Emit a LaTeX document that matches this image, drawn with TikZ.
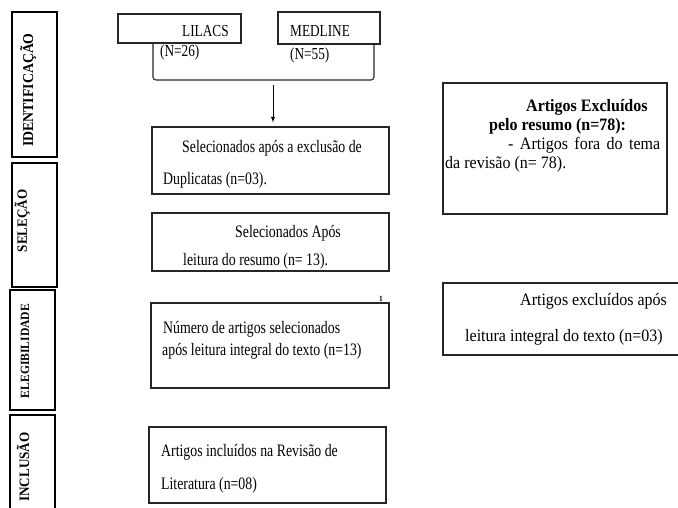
\documentclass[tikz,border=0pt]{standalone}
\usepackage{fontspec}
\setmainfont{Liberation Serif}[FakeStretch=0.92]
\newfontfamily\narrowfont{Liberation Serif}[FakeStretch=0.79]

\tikzset{
  box/.style={draw=black!85, line width=1.1pt, inner sep=0pt},
  phase/.style={draw=black, line width=2.8pt, inner sep=0pt},
  txt/.style={inner sep=0pt, anchor=base west, align=left},
  lbl/.style={inner sep=0pt, anchor=base, rotate=90},
}

\begin{document}
\begin{tikzpicture}[x=1pt, y=-1pt,
>=latex,
font=\narrowfont\fontsize{17.5}{32}\selectfont,
]
\useasboundingbox (0,0) rectangle (678,507);
\clip (0,0) rectangle (678,507);

% PHASES
\node[phase, minimum width=45pt, minimum height=145pt] (ident) at (34.5,84.5) {};
\node[phase, minimum width=45pt, minimum height=124pt] (selec) at (34.5,225) {};
\node[phase, minimum width=45pt, minimum height=120pt] (elegib) at (32.5,350) {};
\node[phase, minimum width=45pt, minimum height=115pt] (inclus) at (32.5,472.5) {};
\node[lbl, font=\rmfamily\bfseries\fontsize{15}{16}\selectfont] (identT) at (33,90) {IDENTIFICAÇÃO};
\node[lbl, font=\rmfamily\bfseries\fontsize{14.2}{16}\selectfont] (selecT) at (27,221) {SELEÇÃO};
\node[lbl, font=\rmfamily\bfseries\fontsize{12.6}{16}\selectfont] (elegibT) at (29,351) {ELEGIBILIDADE};
\node[lbl, font=\rmfamily\bfseries\fontsize{14.3}{16}\selectfont] (inclusT) at (29,467) {INCLUSÃO};

% DATABASES
\node[box, minimum width=123pt, minimum height=29pt] (lilacs) at (179.5,28.5) {};
\node[box, minimum width=102pt, minimum height=32pt] (medline) at (329,28) {};
\node[txt, font=\narrowfont\fontsize{16.8}{20}\selectfont] (lilacsT) at (182,36) {LILACS};
\node[txt, font=\narrowfont\fontsize{16.8}{20}\selectfont] (medlineT) at (290,36) {MEDLINE};
\node[txt, font=\narrowfont\fontsize{16.8}{20}\selectfont] (lilacsN) at (160,56) {(N=26)};
\node[txt, font=\narrowfont\fontsize{16.8}{20}\selectfont] (medlineN) at (290,59) {(N=55)};

% BRACKET
\coordinate (brk) at (273,80);
\coordinate (arrS) at (273,85);
\draw[black!85, line width=1.1pt, rounded corners=3pt] (153,43) |- (brk) -| (374,44);

% SELECTION
\node[box, minimum width=237pt, minimum height=67pt] (dupl) at (270.5,160.5) {};
\node[txt] (duplT) at (163,184) {\hspace*{19pt}Selecionados após a exclusão de\\Duplicatas (n=03).};
\draw[->, line width=0.9pt, shorten >=4pt] (arrS) -- (arrS |- dupl.north);

\node[box, minimum width=237pt, minimum height=58pt] (resumo) at (270.5,242) {};
\node[txt, font=\narrowfont\fontsize{17.5}{28}\selectfont] (resumoT) at (183,265) {\hspace*{52pt}Selecionados Após\\leitura do resumo (n= 13).};

% ELIGIBILITY
\node[box, minimum width=238pt, minimum height=85pt] (elegiv) at (270,345.5) {};
\node[txt, font=\narrowfont\fontsize{17.5}{22}\selectfont] (elegivT) at (162,355) {\hspace*{1pt}Número de artigos selecionados\\após leitura integral do texto (n=13)};
\node[inner sep=0pt, font=\rmfamily\bfseries\fontsize{8}{8}\selectfont] (nota) at (381,299) {1};

% INCLUSION
\node[box, minimum width=237pt, minimum height=76pt] (incl) at (267.5,465) {};
\node[txt, font=\narrowfont\fontsize{17.5}{33}\selectfont] (inclT) at (161,489) {Artigos incluídos na Revisão de\\Literatura (n=08)};

% EXCLUDED
\node[box, minimum width=224pt, minimum height=131pt] (excl1) at (555,148.5) {};
\node[txt, font=\rmfamily\fontsize{17.4}{19}\selectfont] (excl1T) at (445,168) {\hspace*{81pt}\textbf{Artigos Excluídos}\\\hspace*{44pt}\textbf{pelo resumo (n=78):}\\\hspace*{63pt}\makebox[152pt][s]{- Artigos fora do tema}\\da revisão (n= 78).};

\node[box, minimum width=257pt, minimum height=72pt] (excl2) at (571.5,319) {};
\node[txt, font=\rmfamily\fontsize{17.4}{36}\selectfont] (excl2T) at (465,341) {\hspace*{55pt}Artigos excluídos após\\leitura integral do texto (n=03)};

\end{tikzpicture}
\end{document}
